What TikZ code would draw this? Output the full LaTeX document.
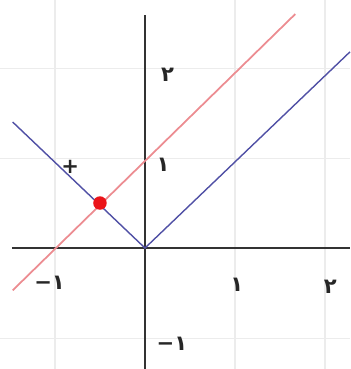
\documentclass[tikz,border=0pt]{standalone}
\usepackage{fontspec}
\newfontfamily\farsifont{DejaVu Sans}
\usetikzlibrary{positioning}
\definecolor{vblue}{RGB}{80,80,165}
\definecolor{lred}{RGB}{236,140,145}
\definecolor{dotred}{RGB}{235,20,25}

\begin{document}
\begin{tikzpicture}[
  x=1.8cm, y=1.8cm,
  gridline/.style={draw=gray!15, line width=0.6pt},
  axis/.style={draw=black!80, line width=1pt},
  vline/.style={draw=vblue, line width=0.8pt},
  rline/.style={draw=lred, line width=1pt},
  tick/.style={font=\farsifont\bfseries\large, inner sep=0pt, text=black!85}
]
\useasboundingbox (-1.611,-1.344) rectangle (2.278,2.756);
% faint grid
\foreach \g in {-1,1,2}
  \draw[gridline] (\g,-1.344) -- (\g,2.756);
\foreach \g in {-1,1,2}
  \draw[gridline] (-1.611,\g) -- (2.278,\g);

% axes
\coordinate (O) at (0,0);
\coordinate (xl) at (-1.48,0);
\coordinate (xr) at (2.278,0);
\coordinate (yb) at (0,-1.344);
\coordinate (yt) at (0,2.59);
\draw[axis] (xl) -- (xr);
\draw[axis] (yb) -- (yt);

% V shape
\coordinate (vl) at (-1.47,1.4);
\coordinate (vr) at (2.278,2.18);
\draw[vline] (vl) -- (O) -- (vr);

% line y=x+1
\coordinate (rl) at (-1.47,-0.47);
\coordinate (rr) at (1.67,2.6);
\draw[rline] (rl) -- (rr);

% meeting point
\fill[dotred] (-0.5,0.5) circle (0.075);
\node[font=\farsifont\bfseries\large, inner sep=0pt, text=black!85] (plus) at (-0.83,0.9) {+};

% labels
\node[tick] (x1) at (1.02,-0.41) {۱};
\node[tick] (x2) at (2.06,-0.43) {۲};
\node[tick] (xm) at (-1.06,-0.39) {−۱};
\node[tick] (y1) at (0.2,0.92) {۱};
\node[tick] (y2) at (0.25,1.92) {۲};
\node[tick] (ym) at (0.3,-1.06) {−۱};
\end{tikzpicture}
\end{document}
